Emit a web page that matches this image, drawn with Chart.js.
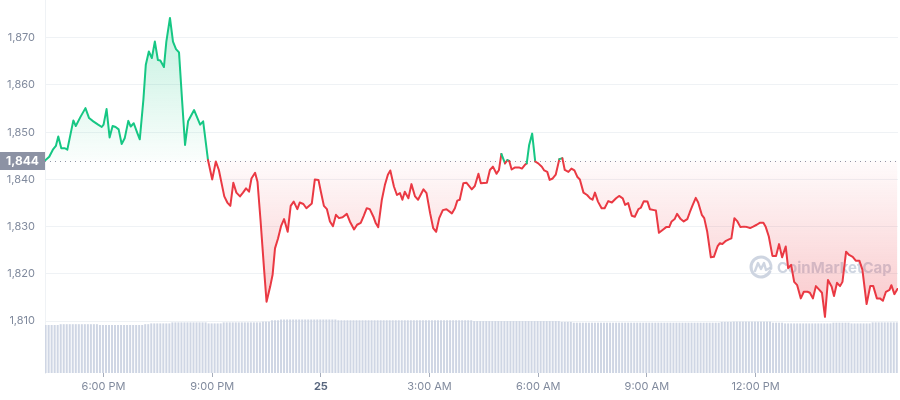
<!DOCTYPE html>
<html>
<head>
<meta charset="utf-8">
<script src="https://cdn.jsdelivr.net/npm/chart.js@4.4.1/dist/chart.umd.min.js"></script>
<style>
html,body{margin:0;padding:0;background:#fff}
#wrap{width:900px;height:400px;position:relative}
</style>
</head>
<body>
<div id="wrap"><canvas id="c" width="900" height="400"></canvas></div>
<script>
// ---- data (minutes since 16:00 on the 24th) ----
const BASE = 1844;
const times = [
  24,30,36,41,45,50,56,60,70,74,
  82,90,96,103,111,117,120,125,130,135,
  140,145,150,155,161,165,170,176,180,186,
  190,195,200,205,210,214,220,224,230,235,
  240,245,250,255,260,270,280,285,293,300,
  306,311,320,325,330,335,340,346,351,356,
  361,365,371,375,380,386,390,396,400,404,
  409,414,419,425,430,435,441,445,451,456,
  465,470,476,480,485,490,495,500,505,510,
  516,523,528,535,540,546,551,556,561,567,
  571,575,581,586,591,595,601,606,611,615,
  619,625,630,636,641,650,655,661,666,671,
  676,682,688,697,702,706,710,716,721,730,
  735,741,745,755,760,765,771,775,779,785,
  789,792,796,801,809,813,818,821,825,830,
  835,840,846,850,855,859,864,869,875,880,
  884,890,895,900,905,909,915,921,926,930,
  934,939,945,950,956,962,969,974,980,984,
  989,995,1000,1006,1010,1015,1021,1025,1032,1035,
  1040,1046,1052,1057,1061,1066,1070,1076,1081,1087,
  1091,1096,1101,1105,1111,1115,1120,1126,1131,1137,
  1141,1145,1151,1156,1160,1165,1170,1175,1181,1186,
  1191,1196,1202,1207,1213,1217,1222,1228,1234,1239,
  1244,1250,1254,1259,1264,1269,1275,1280,1286,1290,
  1295,1300,1305,1310,1315,1320,1326,1330,1335,1340,
  1344,1350,1355,1361,1366,1372,1377,1384,1390,1395,
  1401,1406,1411,1416,1422,1425,1430,1435
];
const prices = [
  1844.1,1844.8,1846.3,1847.1,1849.1,1846.6,1846.6,1846.3,1852.5,1851.3,
  1853.3,1855.1,1853.0,1852.3,1851.6,1851.1,1851.6,1854.9,1848.9,1851.3,
  1851.1,1850.6,1847.5,1848.7,1852.4,1851.2,1851.9,1849.8,1848.5,1856.9,
  1864.3,1867.1,1865.7,1869.2,1865.3,1865.2,1863.8,1869.2,1874.2,1869.2,
  1867.6,1866.9,1856.9,1847.3,1852.3,1854.7,1851.6,1852.3,1844.1,1840.0,
  1843.8,1842.0,1836.4,1835.1,1834.4,1839.3,1837.2,1836.4,1837.2,1838.1,
  1837.4,1840.2,1841.4,1839.5,1831.4,1820.8,1814.1,1817.3,1819.8,1825.4,
  1827.5,1830.1,1831.6,1828.9,1834.4,1835.3,1833.7,1835.1,1834.8,1833.9,
  1834.9,1840.0,1839.9,1837.4,1834.4,1833.7,1831.1,1830.1,1832.5,1831.8,
  1832.0,1832.7,1831.1,1829.4,1830.4,1830.8,1832.3,1833.9,1833.7,1832.1,
  1830.7,1829.9,1835.7,1838.8,1841.0,1841.9,1838.5,1836.7,1837.1,1835.7,
  1837.4,1836.0,1839.0,1836.4,1835.7,1837.9,1837.1,1832.8,1829.7,1828.9,
  1831.8,1833.5,1833.7,1832.8,1833.9,1835.5,1835.7,1839.2,1839.3,1837.9,
  1838.6,1841.2,1839.2,1839.3,1842.0,1842.7,1841.2,1842.0,1845.4,1843.4,
  1844.1,1843.9,1842.1,1842.5,1842.5,1842.3,1843.1,1843.4,1847.3,1849.7,
  1843.8,1843.4,1842.7,1841.9,1841.6,1839.9,1840.2,1841.0,1844.3,1844.5,
  1842.0,1841.6,1842.3,1841.9,1840.5,1840.0,1837.2,1836.7,1836.0,1835.7,
  1837.2,1835.3,1833.9,1833.9,1835.4,1835.1,1836.0,1836.5,1836.0,1834.6,
  1835.0,1832.3,1832.1,1833.7,1834.0,1835.4,1835.3,1833.7,1833.5,1833.4,
  1828.7,1829.3,1829.9,1829.9,1831.1,1831.6,1832.7,1831.6,1831.1,1831.6,
  1833.0,1834.6,1836.1,1835.1,1832.5,1831.8,1828.9,1823.5,1823.6,1825.8,
  1826.5,1826.3,1827.0,1827.3,1827.5,1831.8,1831.1,1829.9,1830.0,1829.9,
  1829.7,1830.0,1830.4,1830.8,1830.8,1829.9,1827.9,1823.8,1823.8,1826.3,
  1823.5,1825.8,1821.2,1821.9,1818.3,1817.6,1814.8,1816.2,1816.2,1816.0,
  1814.8,1817.4,1816.7,1816.0,1810.9,1818.7,1817.3,1815.3,1818.1,1817.4,
  1818.3,1824.7,1824.0,1823.6,1822.8,1822.8,1820.9,1813.6,1817.4,1817.4,
  1814.8,1814.8,1814.3,1816.2,1816.6,1817.6,1815.7,1816.8
];
// volume bars: one every 5 minutes from minute 24; runs of [count, value]
const volStart = 24, volStep = 5;
const volumeRuns = [
  [5,960],[13,976],[15,960],[2,976],[7,992],[12,1012],[5,992],[13,1012],
  [3,1028],[3,1054],[19,1070],[45,1054],[29,1038],[4,1022],[49,1006],
  [4,1022],[13,1028],[4,1006],[16,992],[6,1006],[7,992],[9,1012]
];
const tickMinutes = [120,300,480,660,840,1020,1200];
const tickLabels = ['6:00 PM','9:00 PM','25','3:00 AM','6:00 AM','9:00 AM','12:00 PM'];
const yTickValues = [1810,1820,1830,1840,1850,1860,1870];

// ---- build ----
const volumes = [];
volumeRuns.forEach(([n, v]) => { for (let i = 0; i < n; i++) volumes.push(v); });
const volData = volumes.map((v, i) => ({x: volStart + i * volStep, y: v}));
const priceData = times.map((t, i) => ({x: t, y: prices[i]}));

const GREEN = '#16c784', RED = '#ea3943';

function fillGradient(c) {
  const chart = c.chart;
  if (!chart.chartArea) return 'rgba(0,0,0,0)';
  const y = chart.scales.y;
  const top = y.getPixelForValue(Math.max(...prices));
  const bot = y.getPixelForValue(Math.min(...prices));
  const base = y.getPixelForValue(BASE);
  const g = chart.ctx.createLinearGradient(0, top, 0, bot);
  const f = Math.min(Math.max((base - top) / (bot - top), 0), 1);
  g.addColorStop(0, 'rgba(22,199,132,0.26)');
  g.addColorStop(f, 'rgba(22,199,132,0.02)');
  g.addColorStop(f, 'rgba(234,57,67,0.02)');
  g.addColorStop(1, 'rgba(234,57,67,0.28)');
  return g;
}

const decor = {
  id: 'decor',
  beforeDatasetsDraw(chart) {
    const {ctx, chartArea: a, scales: {y}} = chart;
    // watermark
    ctx.save();
    const cx = a.right - 137, cy = a.bottom - 106;
    ctx.strokeStyle = 'rgba(198,206,220,0.85)';
    ctx.lineWidth = 3;
    ctx.lineCap = 'round';
    ctx.lineJoin = 'round';
    ctx.beginPath();
    ctx.arc(cx, cy, 10, 0.15 * Math.PI, 2.05 * Math.PI);
    ctx.stroke();
    ctx.lineWidth = 2.4;
    ctx.beginPath();
    ctx.moveTo(cx - 6, cy + 4);
    ctx.lineTo(cx - 3, cy - 4);
    ctx.lineTo(cx, cy + 2);
    ctx.lineTo(cx + 3, cy - 4);
    ctx.lineTo(cx + 5, cy + 3);
    ctx.lineTo(cx + 9, cy + 1);
    ctx.stroke();
    ctx.fillStyle = 'rgba(198,206,220,0.85)';
    ctx.font = 'bold 15px Inter';
    ctx.textAlign = 'left';
    ctx.textBaseline = 'middle';
    ctx.fillText('CoinMarketCap', cx + 16, cy + 1);
    ctx.restore();
    // dotted baseline
    const yb = Math.round(y.getPixelForValue(BASE)) + 0.5;
    ctx.save();
    ctx.strokeStyle = '#8f96a6';
    ctx.lineWidth = 1;
    ctx.setLineDash([1, 4]);
    ctx.beginPath();
    ctx.moveTo(a.left, yb);
    ctx.lineTo(a.right, yb);
    ctx.stroke();
    ctx.restore();
  },
  afterDraw(chart) {
    const {ctx, chartArea: a, scales: {y}} = chart;
    const yb = y.getPixelForValue(BASE);
    ctx.save();
    ctx.fillStyle = '#8c92a4';
    ctx.fillRect(0, Math.round(yb) - 9, a.left, 18);
    ctx.fillStyle = '#ffffff';
    ctx.font = 'bold 12px Inter';
    ctx.textAlign = 'center';
    ctx.textBaseline = 'middle';
    ctx.fillText(BASE.toLocaleString('en-US'), a.left / 2, Math.round(yb) + 0.5);
    ctx.restore();
  }
};

new Chart(document.getElementById('c'), {
  data: {
    datasets: [
      {
        type: 'line', data: priceData, xAxisID: 'x', yAxisID: 'y', order: 0,
        borderWidth: 2, pointRadius: 0, pointHoverRadius: 0, tension: 0,
        borderJoinStyle: 'round', borderCapStyle: 'round',
        fill: {value: BASE},
        backgroundColor: fillGradient,
        borderColor: RED,
        segment: {
          borderColor: c => ((c.p0.parsed.y + c.p1.parsed.y) / 2 >= BASE ? GREEN : RED)
        }
      },
      {
        type: 'bar', data: volData, xAxisID: 'x', yAxisID: 'y2', order: 1,
        backgroundColor: '#cfd6e4', borderWidth: 0, barThickness: 2, inflateAmount: 0
      }
    ]
  },
  options: {
    responsive: false, animation: false, devicePixelRatio: 1,
    layout: {padding: {left: 0, right: 2, top: 0, bottom: 0}},
    plugins: {legend: {display: false}, tooltip: {enabled: false}},
    scales: {
      x: {
        type: 'linear', min: 23, max: 1436, offset: false,
        grid: {drawOnChartArea: false, drawTicks: true, tickLength: 4, color: '#a6adbb', offset: false},
        border: {display: false},
        afterBuildTicks: s => { s.ticks = tickMinutes.map(v => ({value: v})); },
        ticks: {
          autoSkip: false, maxRotation: 0, padding: 3,
          color: c => (c.tick && c.tick.value === 480 ? '#58667e' : '#808a9d'),
          font: c => ({family: 'Inter', size: 11, weight: (c.tick && c.tick.value === 480) ? 'bold' : 'normal'}),
          callback: v => tickLabels[tickMinutes.indexOf(v)]
        },
        afterFit: s => { s.height = 27; s.paddingLeft = 0; s.paddingRight = 0; }
      },
      y: {
        position: 'left', min: 1799, max: 1878,
        afterBuildTicks: s => { s.ticks = yTickValues.map(v => ({value: v})); },
        ticks: {
          padding: 10, color: '#808a9d', font: {family: 'Inter', size: 11},
          callback: v => v.toLocaleString('en-US')
        },
        grid: {color: '#eff2f5', drawTicks: false},
        border: {display: true, color: '#eff2f5'},
        afterFit: s => { s.width = 45; s.paddingTop = 0; s.paddingBottom = 0; }
      },
      y2: {display: false, min: 0, max: 7460}
    }
  },
  plugins: [decor]
});
</script>
</body>
</html>
